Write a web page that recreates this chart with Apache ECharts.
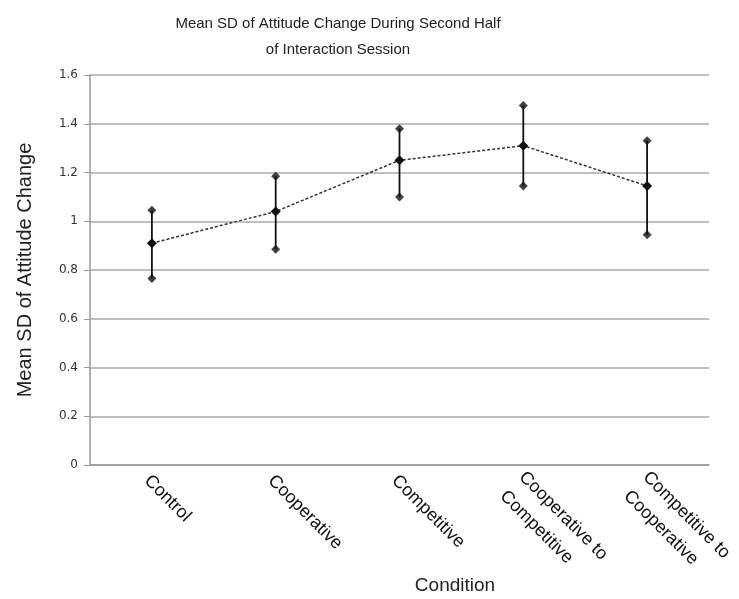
<!DOCTYPE html>
<html>
<head>
<meta charset="utf-8">
<script src="https://cdn.jsdelivr.net/npm/echarts@6/dist/echarts.min.js"></script>
<style>
  html, body { margin: 0; padding: 0; background: #fff; }
  #chart { width: 739px; height: 599px; }
</style>
</head>
<body>
<div id="chart"></div>
<script>
// Conditions and the mean SD of attitude change with its error range
const categories = [
  'Control',
  'Cooperative',
  'Competitive',
  'Cooperative to\nCompetitive',
  'Competitive to\nCooperative'
];
const meanValues = [0.91, 1.04, 1.25, 1.31, 1.145];
const upperValues = [1.045, 1.185, 1.38, 1.475, 1.33];
const lowerValues = [0.765, 0.885, 1.1, 1.145, 0.945];
const yTicks = [0, 0.2, 0.4, 0.6, 0.8, 1, 1.2, 1.4, 1.6];

const chart = echarts.init(document.getElementById('chart'), null, { renderer: 'canvas' });

const font = 'Liberation Sans, Arial, sans-serif';
const labelFont = { fontFamily: font, fontSize: 18, color: '#111' };

const option = {
  animation: false,
  backgroundColor: '#ffffff',
  title: {
    text: 'Mean SD of Attitude Change During Second Half\nof Interaction Session',
    left: 333,
    top: 6,
    textAlign: 'center',
    textStyle: {
      fontFamily: font,
      fontSize: 15,
      fontWeight: 'normal',
      color: '#222',
      lineHeight: 26,
      align: 'center'
    }
  },
  grid: { left: 90, right: 30, top: 75, bottom: 134, containLabel: false, outerBoundsMode: 'none' },
  xAxis: {
    type: 'category',
    data: categories,
    boundaryGap: true,
    axisLine: { show: true, lineStyle: { color: '#999', width: 1.5 } },
    axisTick: { show: false },
    axisLabel: {
      interval: 0,
      rotate: -45,
      margin: 8,
      fontFamily: font,
      fontSize: 18,
      color: '#111',
      hideOverlap: false,
      // top padding nudges each name away from the axis; two-line names start near the axis
      formatter: function (name) {
        const lines = name.split('\n');
        if (lines.length === 1) {
          return '{s|' + lines[0] + '}';
        }
        return '{m|' + lines[0] + '}\n{m|' + lines[1] + '}';
      },
      rich: {
        s: Object.assign({ lineHeight: 18, padding: [14, 0, 0, 0] }, labelFont),
        m: Object.assign({ lineHeight: 27, padding: [31, 0, 0, 0] }, labelFont)
      }
    },
    splitLine: { show: false }
  },
  yAxis: {
    type: 'value',
    min: 0,
    max: 1.6,
    interval: 0.2,
    name: 'Mean SD of Attitude Change',
    nameLocation: 'middle',
    nameGap: 55,
    nameRotate: 90,
    nameTextStyle: { fontFamily: font, fontSize: 20, color: '#222' },
    axisLine: { show: true, lineStyle: { color: '#999', width: 1.5 } },
    axisTick: { show: true, length: 6, lineStyle: { color: '#999' } },
    axisLabel: {
      margin: 12,
      fontFamily: 'DejaVu Sans, sans-serif',
      fontSize: 12,
      color: '#333',
      formatter: function (v) {
        const t = yTicks.find(function (x) { return Math.abs(x - v) < 1e-9; });
        return t === undefined ? '' : String(t);
      }
    },
    splitLine: { show: true, lineStyle: { color: '#aaa', width: 1.5 } }
  },
  graphic: [
    {
      type: 'text',
      x: 455,
      y: 586,
      style: {
        text: 'Condition',
        fontFamily: font,
        fontSize: 19,
        fill: '#222',
        align: 'center',
        verticalAlign: 'middle'
      }
    }
  ],
  series: [
    {
      // vertical error bars
      type: 'custom',
      z: 2,
      data: categories.map(function (c, i) { return [i, lowerValues[i], upperValues[i]]; }),
      renderItem: function (params, api) {
        const lo = api.coord([api.value(0), api.value(1)]);
        const hi = api.coord([api.value(0), api.value(2)]);
        return {
          type: 'line',
          shape: { x1: lo[0], y1: lo[1], x2: hi[0], y2: hi[1] },
          style: { stroke: '#111', lineWidth: 1.8 }
        };
      }
    },
    {
      type: 'scatter',
      z: 3,
      symbol: 'diamond',
      symbolSize: 9,
      itemStyle: { color: '#111' },
      data: upperValues.map(function (v, i) { return [i, v]; })
    },
    {
      type: 'scatter',
      z: 3,
      symbol: 'diamond',
      symbolSize: 9,
      itemStyle: { color: '#111' },
      data: lowerValues.map(function (v, i) { return [i, v]; })
    },
    {
      type: 'line',
      z: 4,
      data: meanValues,
      symbol: 'diamond',
      symbolSize: 10,
      showSymbol: true,
      itemStyle: { color: '#111' },
      lineStyle: { color: '#333', width: 1.5, type: [3, 2] }
    }
  ]
};

chart.setOption(option);
</script>
</body>
</html>
